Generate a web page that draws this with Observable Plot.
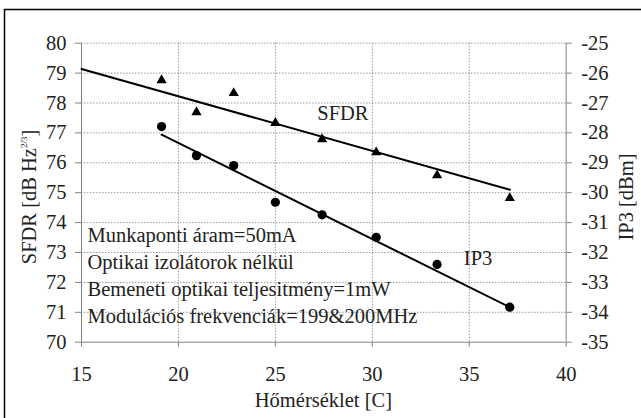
<!DOCTYPE html>
<html>
<head>
<meta charset="utf-8">
<script src="https://cdn.jsdelivr.net/npm/d3@7"></script>
<script src="https://cdn.jsdelivr.net/npm/@observablehq/plot@0.6"></script>
<style>
  html, body { margin: 0; padding: 0; background: #fff; }
  svg { display: block; }
  svg text { font-family: 'Liberation Serif', 'Times New Roman', serif !important; font-variant: normal !important; }
</style>
</head>
<body>
<div id="chart"></div>
<script>
// ---- data ----
const temps = [19.13, 20.93, 22.85, 25.0, 27.41, 30.2, 33.34, 37.09];   // Hőmérséklet [C]
const sfdr  = [78.76, 77.69, 78.33, 77.33, 76.79, 76.35, 75.58, 74.82]; // SFDR [dB Hz^2/3]
const ip3   = [-27.79, -28.76, -29.09, -30.32, -30.74, -31.49, -32.40, -33.83]; // IP3 [dBm]

const sfdrFitX = [15, 37.1];
const sfdrFitY = [79.14, 75.1];
const ip3FitX  = [19.13, 37.09];
const ip3FitY  = [-28.06, -33.83];

const xTicks = [15, 20, 25, 30, 35, 40];
const xGrid  = [20, 25, 30, 35];
const yTicks = [70, 71, 72, 73, 74, 75, 76, 77, 78, 79, 80];
const yGrid  = [71, 72, 73, 74, 75, 76, 77, 78, 79, 80];
const ip3TickLabels = ["-35", "-34", "-33", "-32", "-31", "-30", "-29", "-28", "-27", "-26", "-25"];
const ip3Offset = 105; // right axis: IP3 = left value - 105

const seriesLabels = [
  {text: "SFDR", x: 27.16, y: 77.64},
  {text: "IP3",  x: 34.72, y: -32.21 + ip3Offset}
];
const noteLines = [
  "Munkaponti áram=50mA",
  "Optikai izolátorok nélkül",
  "Bemeneti optikai teljesitmény=1mW",
  "Modulációs frekvenciák=199&200MHz"
];
const noteAnchor = {x: 15.31, y: 72.28};

const xTitle = "Hőmérséklet [C]";
const yTitleMain = "SFDR [dB Hz";
const yTitleSup = "2/3";
const yTitleEnd = "]";
const y2Title = "IP3 [dBm]";

// ---- chart ----
const FONT = "'Liberation Serif', 'Times New Roman', serif";
const FS = 20.5;
const axisGray = "#808080";
const textColor = "#222";

const chart = Plot.plot({
  width: 641,
  height: 418,
  marginLeft: 81,
  marginRight: 75.3,
  marginTop: 42.7,
  marginBottom: 76.3,
  style: {fontFamily: FONT, fontSize: FS + "px", background: "#fff", color: textColor},
  x: {domain: [15, 40]},
  y: {domain: [70, 80]},
  marks: [
    Plot.gridX(xGrid, {stroke: "#9a9a9a", strokeOpacity: 1, strokeDasharray: "1.5,1.5"}),
    Plot.gridY(yGrid, {stroke: "#9a9a9a", strokeOpacity: 1, strokeDasharray: "1.5,1.5"}),
    Plot.ruleX([15], {stroke: axisGray}),
    Plot.ruleX([40], {stroke: axisGray}),
    Plot.ruleY([70], {stroke: axisGray}),
    Plot.axisX(xTicks, {tickSize: 5, tickPadding: 19, label: null, stroke: axisGray, fill: textColor,
      fontSize: FS, fontFamily: FONT}),
    Plot.axisY(yTicks, {anchor: "left", tickSize: 6, tickPadding: 9, label: null, stroke: axisGray, fill: textColor,
      fontSize: FS, fontFamily: FONT}),
    Plot.axisY(yTicks, {anchor: "right", tickSize: 5, tickPadding: 10, label: null, stroke: axisGray, fill: textColor,
      fontSize: FS, fontFamily: FONT,
      tickFormat: d => ip3TickLabels[yTicks.indexOf(d)]}),
    Plot.line(sfdrFitX.map((x, i) => ({x, y: sfdrFitY[i]})), {x: "x", y: "y", stroke: "#000", strokeWidth: 2}),
    Plot.line(ip3FitX.map((x, i) => ({x, y: ip3FitY[i] + ip3Offset})), {x: "x", y: "y", stroke: "#000", strokeWidth: 2}),
    Plot.dot(temps, {x: d => d, y: (d, i) => sfdr[i], symbol: "triangle", r: 3.8, fill: "#000", stroke: "none"}),
    Plot.dot(temps, {x: d => d, y: (d, i) => ip3[i] + ip3Offset, symbol: "circle", r: 4.6, fill: "#000", stroke: "none"}),
    Plot.text(seriesLabels, {x: "x", y: "y", text: "text", textAnchor: "start", fill: textColor, fontSize: FS, fontFamily: FONT}),
    Plot.text([noteLines.join("\n")], {x: () => noteAnchor.x, y: () => noteAnchor.y, text: d => d, textAnchor: "start",
      lineAnchor: "middle", lineHeight: 1.32, fill: textColor, fontSize: FS, fontFamily: FONT})
  ]
});

const svg = d3.select(chart);
svg.selectAll("text").attr("font-family", FONT).style("font-family", FONT).style("font-variant", "normal");

// outer frame (only left and top edges fall within the picture)
svg.append("rect")
  .attr("x", 4.5).attr("y", 9.5).attr("width", 800).attr("height", 600)
  .attr("fill", "none").attr("stroke", "#000").attr("stroke-width", 1.5);

// x axis title
svg.append("text")
  .attr("x", 323.4).attr("y", 407)
  .attr("text-anchor", "middle")
  .attr("font-family", FONT).attr("font-size", FS).attr("fill", textColor)
  .text(xTitle);

// left axis title with superscript
const yt = svg.append("text")
  .attr("transform", "translate(35.5,197) rotate(-90)")
  .attr("text-anchor", "middle")
  .attr("font-family", FONT).attr("font-size", FS).attr("fill", textColor);
yt.append("tspan").text(yTitleMain);
yt.append("tspan").attr("dy", -9).attr("font-size", 9).text(yTitleSup);
yt.append("tspan").attr("dy", 9).text(yTitleEnd);

// right axis title
svg.append("text")
  .attr("transform", "translate(632.5,197) rotate(-90)")
  .attr("text-anchor", "middle")
  .attr("font-family", FONT).attr("font-size", FS).attr("fill", textColor)
  .text(y2Title);

document.getElementById("chart").appendChild(chart);
</script>
</body>
</html>
